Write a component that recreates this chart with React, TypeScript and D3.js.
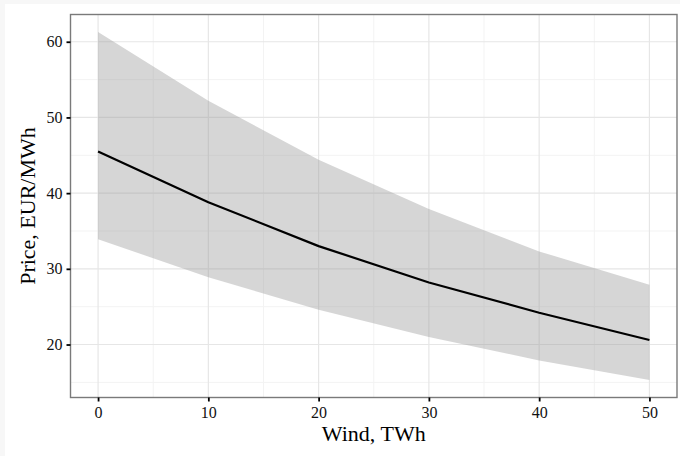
import { useEffect, useRef } from "react";
import * as d3 from "d3";

const wind = [0, 10, 20, 30, 40, 50];
const price = [45.5, 38.8, 33.0, 28.2, 24.2, 20.6];
const priceLow = [33.9, 28.9, 24.6, 21.0, 17.9, 15.3];
const priceHigh = [61.3, 52.2, 44.4, 37.9, 32.3, 27.9];

const xTicks = [0, 10, 20, 30, 40, 50];
const yTicks = [20, 30, 40, 50, 60];
const xMinor = [5, 15, 25, 35, 45];
const yMinor = [15, 25, 35, 45, 55];

const W = 680;
const H = 456;
const FONT = "'Liberation Serif', 'DejaVu Serif', serif";

const App = () => {
  const ref = useRef<SVGSVGElement | null>(null);

  useEffect(() => {
    const svg = d3.select(ref.current);
    svg.selectAll("*").remove();

    // panel box
    const left = 70.5, right = 677, top = 14.5, bottom = 397.5;

    // ggplot style 5% expansion
    const yMin = d3.min(priceLow)!, yMax = d3.max(priceHigh)!;
    const yPad = (yMax - yMin) * 0.05;
    const x = d3.scaleLinear().domain([-2.5, 52.5]).range([left, right]);
    const y = d3.scaleLinear().domain([yMin - yPad, yMax + yPad]).range([bottom, top]);

    svg.append("rect").attr("width", W).attr("height", H).attr("fill", "#f7f7f7");
    svg.append("rect").attr("x", 5).attr("y", 4).attr("width", W - 5).attr("height", H - 4).attr("fill", "#fff");

    const grid = svg.append("g");
    grid.selectAll(".xmin").data(xMinor).join("line")
      .attr("x1", d => x(d)).attr("x2", d => x(d)).attr("y1", top).attr("y2", bottom)
      .attr("stroke", "#f3f3f3").attr("stroke-width", 1);
    grid.selectAll(".ymin").data(yMinor).join("line")
      .attr("y1", d => y(d)).attr("y2", d => y(d)).attr("x1", left).attr("x2", right)
      .attr("stroke", "#f3f3f3").attr("stroke-width", 1);
    grid.selectAll(".xmaj").data(xTicks).join("line")
      .attr("x1", d => x(d)).attr("x2", d => x(d)).attr("y1", top).attr("y2", bottom)
      .attr("stroke", "#e6e6e6").attr("stroke-width", 1.2);
    grid.selectAll(".ymaj").data(yTicks).join("line")
      .attr("y1", d => y(d)).attr("y2", d => y(d)).attr("x1", left).attr("x2", right)
      .attr("stroke", "#e6e6e6").attr("stroke-width", 1.2);

    const idx = d3.range(wind.length);

    const area = d3.area<number>()
      .x(i => x(wind[i]))
      .y0(i => y(priceLow[i]))
      .y1(i => y(priceHigh[i]));
    svg.append("path").datum(idx)
      .attr("d", area)
      .attr("fill", "#999999").attr("fill-opacity", 0.4);

    const line = d3.line<number>().x(i => x(wind[i])).y(i => y(price[i]));
    svg.append("path").datum(idx)
      .attr("d", line)
      .attr("fill", "none").attr("stroke", "#000").attr("stroke-width", 2.2)
      .attr("stroke-linejoin", "round");

    // border
    svg.append("rect")
      .attr("x", left).attr("y", top).attr("width", right - left).attr("height", bottom - top)
      .attr("fill", "none").attr("stroke", "#7a7a7a").attr("stroke-width", 1.4);

    // axes
    const xAxis = svg.append("g").attr("transform", `translate(0,${bottom})`)
      .call(d3.axisBottom(x).tickValues(xTicks).tickSize(4).tickPadding(5).tickFormat(d3.format("d")));
    const yAxis = svg.append("g").attr("transform", `translate(${left},0)`)
      .call(d3.axisLeft(y).tickValues(yTicks).tickSize(4).tickPadding(4).tickFormat(d3.format("d")));
    [xAxis, yAxis].forEach(a => {
      a.select(".domain").remove();
      a.selectAll(".tick line").attr("stroke", "#000").attr("stroke-width", 1.8);
      a.selectAll(".tick text").attr("font-family", FONT).attr("font-size", 16).attr("fill", "#111");
    });

    svg.append("text")
      .attr("x", (left + right) / 2).attr("y", 441)
      .attr("text-anchor", "middle")
      .attr("font-family", FONT).attr("font-size", 22)
      .text("Wind, TWh");

    svg.append("text")
      .attr("transform", `translate(35,${(top + bottom) / 2}) rotate(-90)`)
      .attr("text-anchor", "middle")
      .attr("font-family", FONT).attr("font-size", 22)
      .text("Price, EUR/MWh");
  }, []);

  return (
    <svg ref={ref} width={W} height={H} style={{ position: "absolute", left: 0, top: 0, display: "block" }} />
  );
};

export default App;
